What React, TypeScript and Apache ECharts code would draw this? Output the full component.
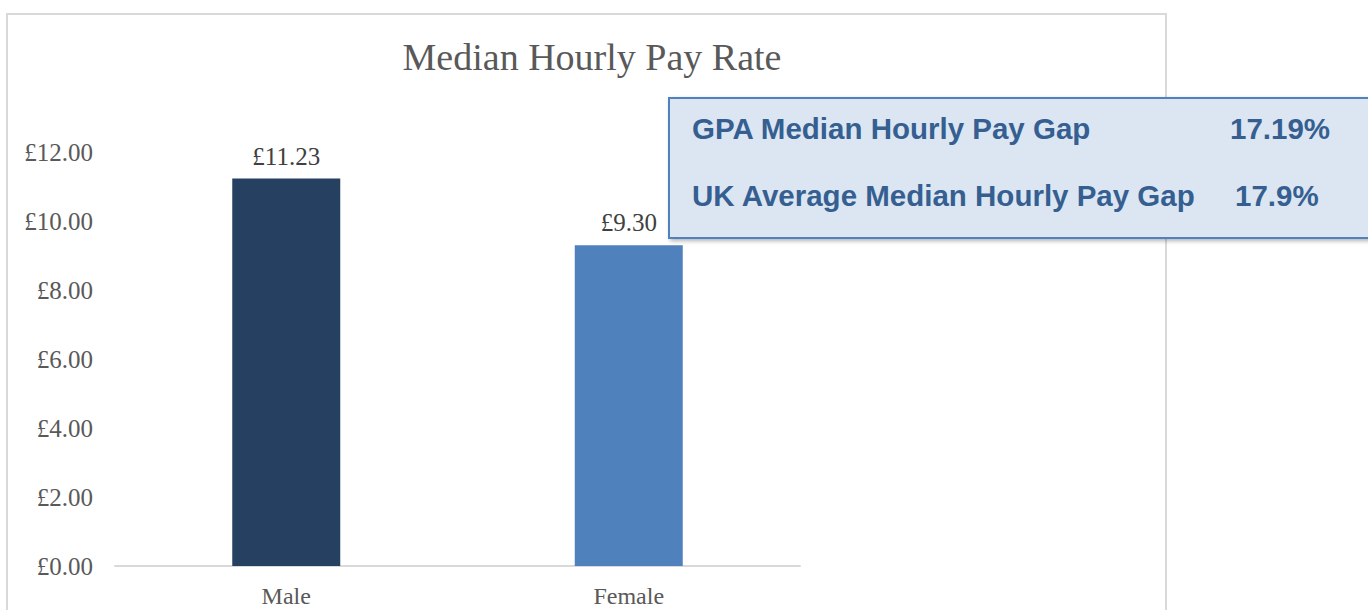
import React, { useEffect, useRef } from "react";
import * as echarts from "echarts";

const categories = ["Male", "Female"];
const medianPay = [11.23, 9.3];
const gapLabels = ["GPA Median Hourly Pay Gap", "UK Average Median Hourly Pay Gap"];
const gapValues = ["17.19%", "17.9%"];
const chartTitle = "Median Hourly Pay Rate";

const barColors = ["#264061", "#4f81bd"];
const serif = "'Liberation Serif', serif";
const sans = "'Liberation Sans', Arial, sans-serif";

export default function App() {
  const ref = useRef<HTMLDivElement>(null);
  useEffect(() => {
    document.body.style.margin = "0";
    const chart = echarts.init(ref.current!, undefined, { renderer: "svg" });
    const gapColor = "#365f91";
    chart.setOption({
      animation: false,
      backgroundColor: "#ffffff",
      title: {
        text: chartTitle,
        left: 587,
        top: 33,
        textAlign: "center",
        textStyle: { fontFamily: serif, fontSize: 38, fontWeight: "normal", color: "#595959" },
      },
      grid: { left: 115, right: 568, top: 152, bottom: 44 },
      xAxis: {
        type: "category",
        data: categories,
        axisLine: { lineStyle: { color: "#d9d9d9", width: 2 } },
        axisTick: { show: false },
        axisLabel: { fontFamily: serif, fontSize: 24, color: "#595959", margin: 18 },
      },
      yAxis: {
        type: "value",
        min: 0,
        max: 12,
        interval: 2,
        splitLine: { show: false },
        axisLine: { show: false },
        axisTick: { show: false },
        axisLabel: {
          fontFamily: serif,
          fontSize: 25,
          color: "#595959",
          margin: 22,
          formatter: (v: number) => "£" + v.toFixed(2),
        },
      },
      series: [
        {
          type: "bar",
          barWidth: 108,
          data: medianPay.map((v, i) => ({ value: v, itemStyle: { color: barColors[i] } })),
          label: {
            show: true,
            position: "top",
            distance: 10,
            fontFamily: serif,
            fontSize: 25,
            color: "#404040",
            formatter: (p: any) => "£" + Number(p.value).toFixed(2),
          },
        },
      ],
      graphic: [
        {
          type: "rect",
          z: -10,
          shape: { x: 7, y: 14, width: 1159, height: 640 },
          style: { fill: "none", stroke: "#d9d9d9", lineWidth: 2 },
        },
        {
          type: "group",
          z: 100,
          children: [
            {
              type: "rect",
              shape: { x: 669, y: 98, width: 720, height: 140 },
              style: {
                fill: "#dce6f2",
                stroke: "#4f81bd",
                lineWidth: 2,
                shadowBlur: 4,
                shadowOffsetX: 2,
                shadowOffsetY: 2,
                shadowColor: "rgba(0,0,0,0.3)",
              },
            },
            ...gapLabels.flatMap((lbl, i) => [
              {
                type: "text",
                x: 692,
                y: 128 + i * 67,
                style: {
                  text: lbl,
                  fontFamily: sans,
                  fontWeight: "bold",
                  fontSize: 29.5,
                  fill: gapColor,
                  verticalAlign: "middle",
                },
              },
              {
                type: "text",
                x: i === 0 ? 1230 : 1235,
                y: 128 + i * 67,
                style: {
                  text: gapValues[i],
                  fontFamily: sans,
                  fontWeight: "bold",
                  fontSize: 29.5,
                  fill: gapColor,
                  verticalAlign: "middle",
                },
              },
            ]),
          ],
        },
      ],
    });
    return () => chart.dispose();
  }, []);
  return <div ref={ref} style={{ position: "fixed", left: 0, top: 0, width: 1368, height: 610 }} />;
}
